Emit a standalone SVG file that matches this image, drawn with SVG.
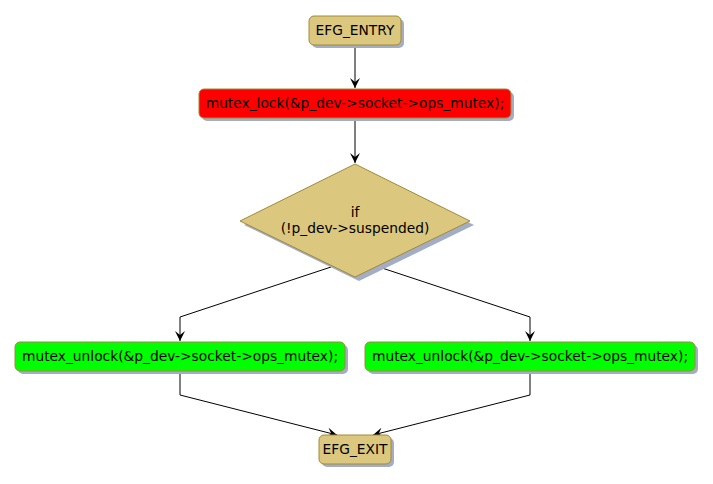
<svg xmlns="http://www.w3.org/2000/svg" width="713" height="484" viewBox="0 0 713 484">
<defs>
<style>
.t{font-family:"DejaVu Sans",sans-serif;font-size:13.8px;fill:#000;text-anchor:middle}
.sh{fill:#A3ADC6}
.y{fill:#DBC77D;stroke:#A08A3A;stroke-width:1}
.r{fill:#FF0000;stroke:#A08A3A;stroke-width:1}
.g{fill:#00FF00;stroke:#A08A3A;stroke-width:1}
.c{fill:none;stroke:#000;stroke-width:1}
</style>
<marker id="ah" viewBox="0 0 10 10" refX="10" refY="5" markerWidth="10" markerHeight="10" markerUnits="userSpaceOnUse" orient="auto">
<path d="M0,0 L10,5 L0,10 L4,5 Z" fill="#000"/>
</marker>
</defs>
<g id="connectors">
<path class="c" d="M355,45 L355,88" marker-end="url(#ah)"/>
<path class="c" d="M355,118 L355,163" marker-end="url(#ah)"/>
<path class="c" d="M331,267 L180,317 L180,341" marker-end="url(#ah)"/>
<path class="c" d="M379,267 L530,317 L530,341" marker-end="url(#ah)"/>
<path class="c" d="M180,371 L180,395 L337,435" marker-end="url(#ah)"/>
<path class="c" d="M530,371 L530,395 L373,435" marker-end="url(#ah)"/>
</g>
<g id="entry">
<rect class="sh" x="312" y="19" width="92" height="29" rx="5"/>
<rect class="y" x="309" y="16" width="92" height="29" rx="5"/>
<text class="t" x="355" y="35">EFG_ENTRY</text>
</g>
<g id="lock">
<rect class="sh" x="202" y="92" width="312" height="29" rx="5"/>
<rect class="r" x="199" y="89" width="312" height="29" rx="5"/>
<text class="t" x="355" y="108">mutex_lock(&amp;p_dev-&gt;socket-&gt;ops_mutex);</text>
</g>
<g id="decision">
<polygon class="sh" points="359,168 474,225 359,281 244,225"/>
<polygon class="y" points="355,164 470,221 355,277 240,221"/>
<text class="t" x="355" y="217">if</text>
<text class="t" x="355" y="233">(!p_dev-&gt;suspended)</text>
</g>
<g id="unlock1">
<rect class="sh" x="18" y="345" width="330" height="29" rx="5"/>
<rect class="g" x="15" y="342" width="330" height="29" rx="5"/>
<text class="t" x="180" y="361">mutex_unlock(&amp;p_dev-&gt;socket-&gt;ops_mutex);</text>
</g>
<g id="unlock2">
<rect class="sh" x="368" y="345" width="330" height="29" rx="5"/>
<rect class="g" x="365" y="342" width="330" height="29" rx="5"/>
<text class="t" x="530" y="361">mutex_unlock(&amp;p_dev-&gt;socket-&gt;ops_mutex);</text>
</g>
<g id="exit">
<rect class="sh" x="322" y="438" width="72" height="29" rx="5"/>
<rect class="y" x="319" y="435" width="72" height="29" rx="5"/>
<text class="t" x="355" y="454">EFG_EXIT</text>
</g>
</svg>
